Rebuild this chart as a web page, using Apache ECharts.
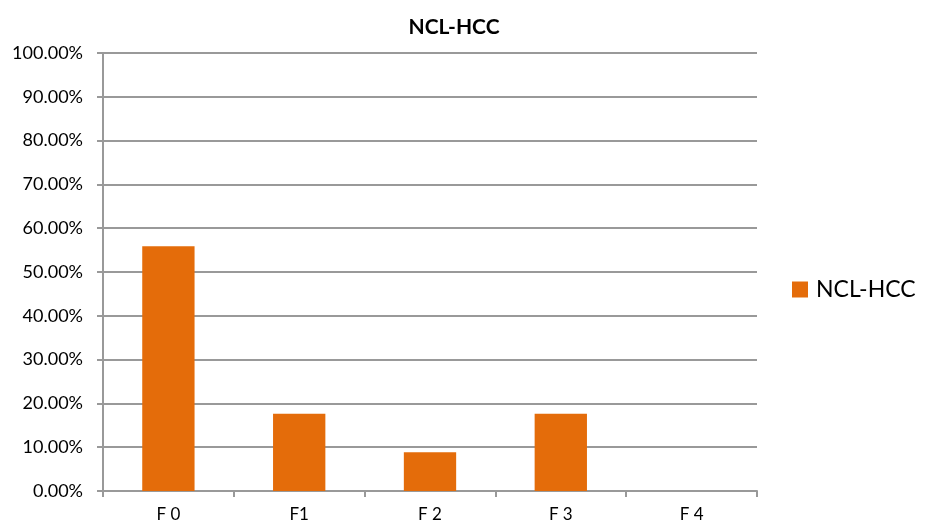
<!DOCTYPE html>
<html>
<head>
<meta charset="utf-8">
<script src="https://cdn.jsdelivr.net/npm/echarts@6/dist/echarts.min.js"></script>
<style>
  html, body { margin: 0; padding: 0; background: #fff; }
  #chart { width: 931px; height: 525px; }
</style>
</head>
<body>
<div id="chart"></div>
<script>
const categories = ['F 0', 'F1', 'F 2', 'F 3', 'F 4'];
const seriesName = 'NCL-HCC';
const values = [0.5588, 0.1765, 0.0882, 0.1765, 0];

const chart = echarts.init(document.getElementById('chart'));
const font = 'Lato, "Open Sans", sans-serif';

chart.setOption({
  animation: false,
  textStyle: { fontFamily: font },
  title: {
    text: 'NCL-HCC',
    left: 449,
    top: 12,
    textAlign: 'center',
    textStyle: { fontFamily: font, fontSize: 21, fontWeight: 'bold', color: '#000' },
  },
  legend: {
    data: [seriesName],
    orient: 'vertical',
    left: 787,
    top: 273,
    itemWidth: 16,
    itemHeight: 16,
    icon: 'rect',
    textStyle: { fontFamily: font, fontSize: 23, color: '#000', padding: [0, 0, 0, 3] },
  },
  grid: { left: 103, right: 174, top: 53, bottom: 34, containLabel: false },
  xAxis: {
    type: 'category',
    data: categories,
    axisLine: { lineStyle: { color: '#999', width: 2 } },
    axisTick: { show: true, length: 6, alignWithLabel: false, lineStyle: { color: '#999', width: 2 } },
    axisLabel: { color: '#000', fontSize: 17, margin: 15 },
  },
  yAxis: {
    type: 'value',
    min: 0,
    max: 1,
    interval: 0.1,
    axisLine: { show: true, lineStyle: { color: '#999', width: 2 } },
    axisTick: { show: true, length: 6, lineStyle: { color: '#999', width: 2 } },
    splitLine: { lineStyle: { color: '#999', width: 2 } },
    axisLabel: {
      color: '#000',
      fontSize: 18,
      margin: 20,
      formatter: (v) => (v * 100).toFixed(2) + '%',
    },
  },
  series: [
    {
      name: seriesName,
      type: 'bar',
      data: values,
      barWidth: '40%',
      itemStyle: { color: '#E46C0A' },
    },
  ],
});
</script>
</body>
</html>
